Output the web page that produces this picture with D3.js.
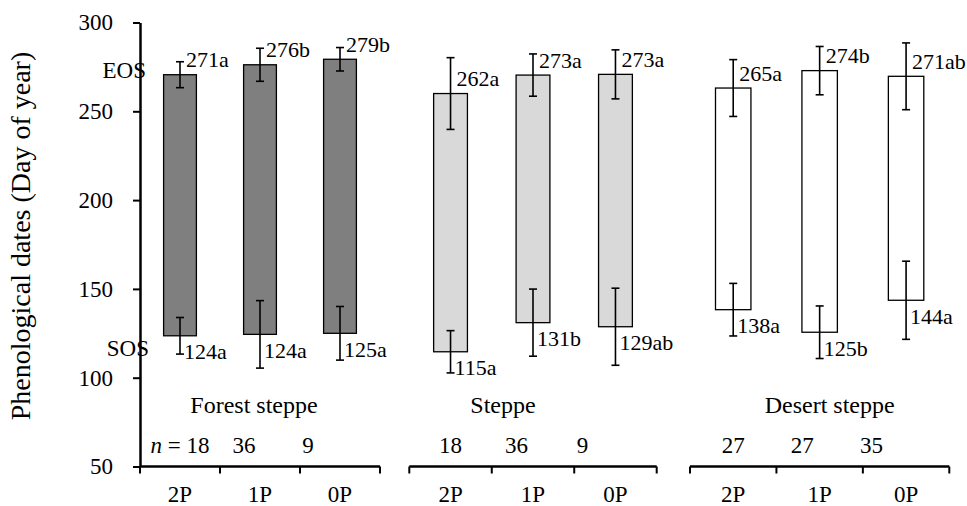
<!DOCTYPE html>
<html>
<head>
<meta charset="utf-8">
<script src="https://cdn.jsdelivr.net/npm/d3@7"></script>
<style>
  body { margin: 0; background: #fff; }
  text { font-family: "Liberation Serif", "DejaVu Serif", serif; fill: #000; }
</style>
</head>
<body>
<div id="chart"></div>
<script>
// data
const groups = ["Forest steppe", "Steppe", "Desert steppe"];
const treatments = ["2P", "1P", "0P"];
const eosMean = [[270.6, 276.2, 279.3], [260.0, 270.4, 270.8], [263.1, 272.9, 269.7]];
const eosErr = [[7.3, 9.3, 6.6], [20.2, 11.9, 13.8], [16.0, 13.6, 18.8]];
const sosMean = [[123.6, 124.4, 125.0], [114.6, 131.0, 128.7], [138.3, 125.6, 143.6]];
const sosErr = [[10.3, 19.0, 15.1], [11.9, 18.9, 21.7], [14.8, 14.8, 22.0]];
const eosLabels = [["271a", "276b", "279b"], ["262a", "273a", "273a"], ["265a", "274b", "271ab"]];
const sosLabels = [["124a", "124a", "125a"], ["115a", "131b", "129ab"], ["138a", "125b", "144a"]];
const nCounts = [[18, 36, 9], [18, 36, 9], [27, 27, 35]];
const yTicks = [50, 100, 150, 200, 250, 300];
const fills = ["#7f7f7f", "#d9d9d9", "#ffffff"];

// layout
const width = 967, height = 506;
const segments = [[140, 380], [409.3, 656.7], [690, 949.3]];
const groupLabelShift = [-6, -30, 10];

const svg = d3.select('#chart')
    .append('svg')
    .attr('width', width)
    .attr('height', height);

const yScale = d3.scaleLinear()
    .domain([50, 300])
    .range([466.5, 22.5]);

// y axis
const leftAxis = d3.axisLeft(yScale)
    .tickValues(yTicks)
    .tickSize(7)
    .tickSizeOuter(0)
    .tickPadding(20);

const yAxisG = svg.append('g')
    .attr('transform', `translate(140,0)`)
    .call(leftAxis);
yAxisG.select('.domain').attr('stroke', '#000').attr('stroke-width', 2.5);
yAxisG.selectAll('.tick line').attr('stroke', '#000').attr('stroke-width', 2);
yAxisG.selectAll('.tick text')
    .attr('font-family', '"Liberation Serif", serif')
    .attr('font-size', 23)
    .attr('fill', '#000');

svg.append('text')
    .text('Phenological dates (Day of year)')
    .attr('text-anchor', 'middle')
    .attr('font-size', 28)
    .attr('transform', `translate(30,${236}) rotate(-90)`);

svg.append('text').text('EOS')
    .attr('text-anchor', 'end')
    .attr('font-size', 23)
    .attr('x', 146)
    .attr('y', yScale(273.5))
    .attr('dy', '0.35em');

svg.append('text').text('SOS')
    .attr('text-anchor', 'end')
    .attr('font-size', 23)
    .attr('x', 149)
    .attr('y', yScale(116.5))
    .attr('dy', '0.35em');

groups.forEach((g, gi) => {
    const [x0, x1] = segments[gi];
    const xScale = d3.scaleBand()
        .domain(treatments)
        .range([x0, x1])
        .paddingInner(0.59)
        .paddingOuter(0.295);
    const step = xScale.step();
    const rows = treatments.map((t, i) => ({
        t, i,
        eos: eosMean[gi][i], eosE: eosErr[gi][i],
        sos: sosMean[gi][i], sosE: sosErr[gi][i],
        eosL: eosLabels[gi][i], sosL: sosLabels[gi][i],
        n: nCounts[gi][i]
    }));
    const cx = d => xScale(d.t) + xScale.bandwidth() / 2;

    const gG = svg.append('g');

    // floating bars from SOS to EOS
    gG.selectAll('rect')
        .data(rows)
        .join('rect')
            .attr('x', d => xScale(d.t))
            .attr('width', xScale.bandwidth())
            .attr('y', d => yScale(d.eos))
            .attr('height', d => yScale(d.sos) - yScale(d.eos))
            .attr('fill', fills[gi])
            .attr('stroke', '#000')
            .attr('stroke-width', 1.3);

    // error bars at both ends
    const errs = rows.flatMap(d => [
        { x: cx(d), v: d.eos, e: d.eosE },
        { x: cx(d), v: d.sos, e: d.sosE }
    ]);
    const cap = 4;
    const errG = gG.selectAll('g.err')
        .data(errs)
        .join('g')
            .attr('class', 'err')
            .attr('stroke', '#000')
            .attr('stroke-width', 1.6);
    errG.append('line')
        .attr('x1', d => d.x).attr('x2', d => d.x)
        .attr('y1', d => yScale(d.v + d.e)).attr('y2', d => yScale(d.v - d.e));
    errG.append('line')
        .attr('x1', d => d.x - cap).attr('x2', d => d.x + cap)
        .attr('y1', d => yScale(d.v + d.e)).attr('y2', d => yScale(d.v + d.e));
    errG.append('line')
        .attr('x1', d => d.x - cap).attr('x2', d => d.x + cap)
        .attr('y1', d => yScale(d.v - d.e)).attr('y2', d => yScale(d.v - d.e));

    // value labels
    gG.selectAll('text.eos')
        .data(rows)
        .join('text')
            .attr('class', 'eos')
            .attr('x', d => cx(d) + 6)
            .attr('y', d => yScale(d.eos) - 15)
            .attr('dy', '0.35em')
            .attr('font-size', 22)
            .text(d => d.eosL);
    gG.selectAll('text.sos')
        .data(rows)
        .join('text')
            .attr('class', 'sos')
            .attr('x', d => cx(d) + 4)
            .attr('y', d => yScale(d.sos) + 16)
            .attr('dy', '0.35em')
            .attr('font-size', 22)
            .text(d => d.sosL);

    // x axis segment with ticks between categories
    const axisG = svg.append('g').attr('transform', `translate(0,${yScale(50)})`);
    axisG.append('line')
        .attr('x1', x0).attr('x2', x1)
        .attr('stroke', '#000').attr('stroke-width', 2.5);
    axisG.selectAll('line.tk')
        .data(d3.range(treatments.length + 1))
        .join('line')
            .attr('class', 'tk')
            .attr('x1', i => x0 + i * step).attr('x2', i => x0 + i * step)
            .attr('y1', 0).attr('y2', 7)
            .attr('stroke', '#000').attr('stroke-width', 2);
    axisG.selectAll('text.tl')
        .data(rows)
        .join('text')
            .attr('class', 'tl')
            .attr('x', cx)
            .attr('y', 35)
            .attr('text-anchor', 'middle')
            .attr('font-size', 23)
            .text(d => d.t);

    // n row
    const nG = gG.selectAll('text.n')
        .data(rows)
        .join('text')
            .attr('class', 'n')
            .attr('x', d => x0 + step * (0.5 + 0.8 * d.i))
            .attr('y', 453)
            .attr('text-anchor', 'middle')
            .attr('font-size', 23);
    nG.each(function(d) {
        const t = d3.select(this);
        if (gi === 0 && d.i === 0) {
            t.append('tspan').attr('font-style', 'italic').text('n');
            t.append('tspan').text(' = ' + d.n);
        } else {
            t.text(d.n);
        }
    });

    // group label
    svg.append('text')
        .text(g)
        .attr('x', (x0 + x1) / 2 + groupLabelShift[gi])
        .attr('y', 413)
        .attr('text-anchor', 'middle')
        .attr('font-size', 24);
});
</script>
</body>
</html>
